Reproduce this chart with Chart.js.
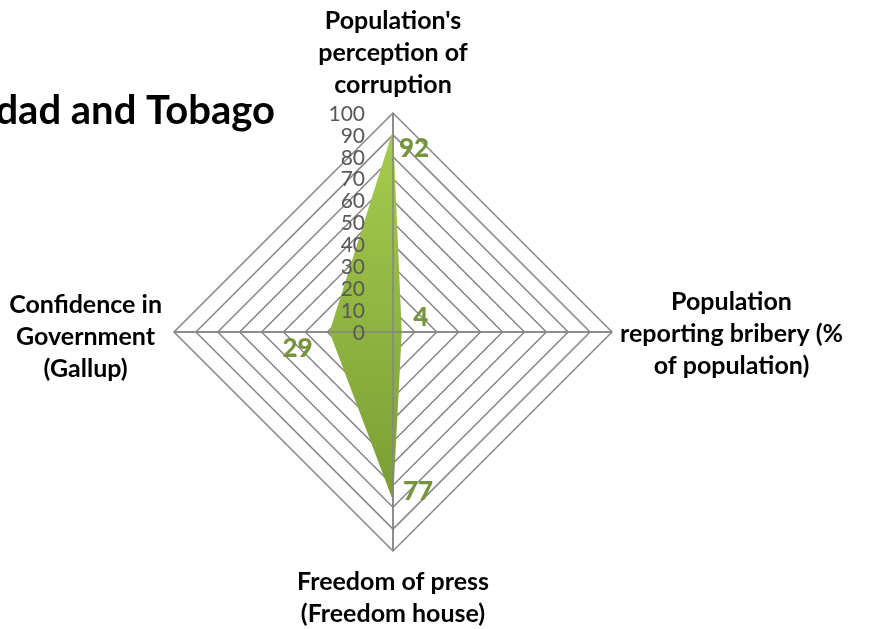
<!DOCTYPE html>
<html>
<head>
<meta charset="utf-8">
<script src="https://cdn.jsdelivr.net/npm/chart.js@4"></script>
<style>
html,body{margin:0;padding:0;background:#fff;overflow:hidden;}
canvas{display:block;}
</style>
</head>
<body>
<canvas id="c" width="869" height="629"></canvas>
<script>
// ---- data ----
const title = "Trinidad and Tobago";
const categories = [
  ["Population's", "perception of", "corruption"],
  ["Population", "reporting bribery (%", "of population)"],
  ["Freedom of press", "(Freedom house)"],
  ["Confidence in", "Government", "(Gallup)"]
];
const values = [92, 4, 77, 29];
const tickValues = [0, 10, 20, 30, 40, 50, 60, 70, 80, 90, 100];

// ---- layout/style (not data) ----
const labelOffsets = [[21, 18], [19, -14], [25, -9], [-32, 17]];
const FONT = "Lato, 'Open Sans', sans-serif";
const GRID = "#868686";

const overlay = {
  id: 'overlay',
  beforeDatasetDraw(chart) {
    const ctx = chart.ctx;
    ctx.save();
    ctx.shadowColor = 'rgba(0,0,0,0.35)';
    ctx.shadowBlur = 6;
    ctx.shadowOffsetX = 3;
    ctx.shadowOffsetY = 2;
  },
  afterDatasetDraw(chart) {
    chart.ctx.restore();
  },
  afterDatasetsDraw(chart) {
    const ctx = chart.ctx;
    const s = chart.scales.r;
    const n = categories.length;
    ctx.save();
    ctx.strokeStyle = GRID;
    ctx.lineWidth = 1.5;
    for (let i = 0; i < n; i++) {
      const p = s.getPointPosition(i, s.drawingArea);
      ctx.beginPath();
      ctx.moveTo(s.xCenter, s.yCenter);
      ctx.lineTo(p.x, p.y);
      ctx.stroke();
    }
    ctx.fillStyle = "#595959";
    ctx.font = "21px " + FONT;
    ctx.textAlign = "right";
    ctx.textBaseline = "middle";
    tickValues.forEach(v => {
      const d = s.getDistanceFromCenterForValue(v);
      ctx.fillText(String(v), s.xCenter - 28, s.yCenter - d + 1);
    });
    ctx.fillStyle = "#77933C";
    ctx.font = "900 26px " + FONT;
    ctx.textAlign = "center";
    values.forEach((v, i) => {
      const p = s.getPointPosition(i, s.getDistanceFromCenterForValue(v));
      ctx.fillText(String(v), p.x + labelOffsets[i][0], p.y + labelOffsets[i][1]);
    });
    ctx.fillStyle = "#000";
    ctx.font = "bold 25px " + FONT;
    const lh = 32;
    categories.forEach((lines, i) => {
      const w = Math.max(...lines.map(t => ctx.measureText(t).width));
      const h = lines.length * lh;
      let cx, top;
      if (i === 0) {
        const p = s.getPointPosition(i, s.drawingArea + 12);
        cx = p.x; top = p.y - h;
      } else if (i === 2) {
        const p = s.getPointPosition(i, s.drawingArea + 15);
        cx = p.x; top = p.y;
      } else if (i === 1) {
        const p = s.getPointPosition(i, s.drawingArea + 8);
        cx = p.x + w / 2; top = p.y - h / 2 + 2;
      } else {
        const p = s.getPointPosition(i, s.drawingArea + 12);
        cx = p.x - w / 2; top = p.y - h / 2 + 5;
      }
      lines.forEach((t, k) => ctx.fillText(t, cx, top + lh * k + lh / 2));
    });
    ctx.font = "bold 40px " + FONT;
    ctx.textAlign = "right";
    ctx.textBaseline = "alphabetic";
    ctx.fillText(title, 275, 124);
    ctx.restore();
  }
};

new Chart(document.getElementById('c'), {
  type: 'radar',
  data: {
    labels: categories,
    datasets: [{
      data: values,
      fill: true,
      borderWidth: 0,
      borderColor: 'rgba(0,0,0,0)',
      pointRadius: 0,
      tension: 0,
      backgroundColor(ctx) {
        const c = ctx.chart.ctx;
        const g = c.createLinearGradient(0, 130, 0, 500);
        g.addColorStop(0, '#a6cc4d');
        g.addColorStop(1, '#7b9e35');
        return g;
      }
    }]
  },
  options: {
    responsive: false,
    animation: false,
    devicePixelRatio: 1,
    layout: { padding: { left: 174, right: 257, top: 113, bottom: 78 } },
    plugins: { legend: { display: false }, tooltip: { enabled: false }, title: { display: false } },
    scales: {
      r: {
        min: 0, max: 100,
        ticks: { display: false, stepSize: 10 },
        grid: { circular: false, color: GRID, lineWidth: 1.5 },
        angleLines: { color: GRID, lineWidth: 1.5 },
        pointLabels: { display: false }
      }
    }
  },
  plugins: [overlay]
});
</script>
</body>
</html>
